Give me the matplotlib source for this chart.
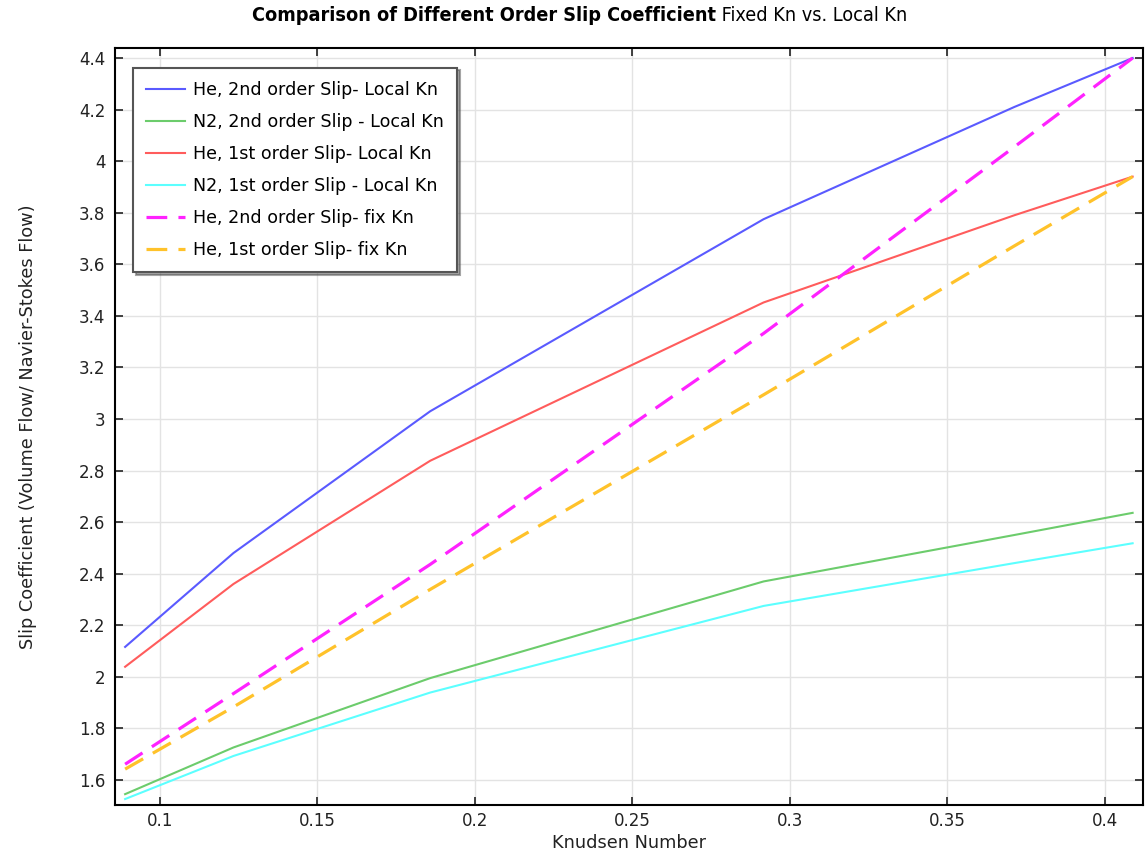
import matplotlib
matplotlib.use("Agg")
import matplotlib.pyplot as plt
from matplotlib.ticker import FuncFormatter, FixedLocator

# ---- data ----
kn = [0.0889, 0.1233, 0.1858, 0.2917, 0.3713, 0.4089]
he_2nd_local = [2.116, 2.48, 3.03, 3.775, 4.21, 4.40]
n2_2nd_local = [1.545, 1.726, 1.995, 2.37, 2.55, 2.636]
he_1st_local = [2.039, 2.36, 2.838, 3.452, 3.79, 3.94]
n2_1st_local = [1.526, 1.693, 1.939, 2.275, 2.441, 2.518]
he_2nd_fix = [1.661, 1.935, 2.436, 3.332, 4.055, 4.40]
he_1st_fix = [1.642, 1.883, 2.339, 3.094, 3.671, 3.94]

labels = ["He, 2nd order Slip- Local Kn", "N2, 2nd order Slip - Local Kn",
          "He, 1st order Slip- Local Kn", "N2, 1st order Slip - Local Kn",
          "He, 2nd order Slip- fix Kn", "He, 1st order Slip- fix Kn"]
xticks = [0.1, 0.15, 0.2, 0.25, 0.3, 0.35, 0.4]
yticks = [1.6, 1.8, 2.0, 2.2, 2.4, 2.6, 2.8, 3.0, 3.2, 3.4, 3.6, 3.8, 4.0, 4.2, 4.4]

fig = plt.figure(figsize=(11.47, 8.52), dpi=100)
ax = fig.add_axes([0.1003, 0.0552, 0.8965, 0.8885])

solid_lw = 1.5
dash_lw = 2.3
ax.plot(kn, he_2nd_local, color="#5a5aff", lw=solid_lw, label=labels[0])
ax.plot(kn, n2_2nd_local, color="#6ccc6c", lw=solid_lw, label=labels[1])
ax.plot(kn, he_1st_local, color="#ff5c5c", lw=solid_lw, label=labels[2])
ax.plot(kn, n2_1st_local, color="#5cffff", lw=solid_lw, label=labels[3])
ax.plot(kn, he_2nd_fix, color="#ff22ff", lw=dash_lw, dashes=(6.5, 3.5), label=labels[4])
ax.plot(kn, he_1st_fix, color="#ffc22a", lw=dash_lw, dashes=(6.5, 3.5), label=labels[5])

ax.set_xlim(0.0857, 0.4123)
ax.set_ylim(1.503, 4.439)
ax.xaxis.set_major_locator(FixedLocator(xticks))
ax.yaxis.set_major_locator(FixedLocator(yticks))
fmt = FuncFormatter(lambda v, p: ("%.2f" % v).rstrip("0").rstrip("."))
ax.xaxis.set_major_formatter(fmt)
ax.yaxis.set_major_formatter(fmt)

ax.grid(True, color="#e3e3e3", lw=1.0)
ax.set_axisbelow(True)
ax.tick_params(direction="in", length=6, width=1.2, top=True, right=True,
               labelsize=12, colors="#222222")
ax.tick_params(axis="x", pad=5)
ax.tick_params(axis="y", pad=7)
for s in ax.spines.values():
    s.set_linewidth(1.5)
    s.set_color("black")

ax.set_xlabel("Knudsen Number", fontsize=12.8, color="#222222", labelpad=3)
ax.set_ylabel("Slip Coefficient (Volume Flow/ Navier-Stokes Flow)", fontsize=12.8,
              color="#222222", labelpad=30)

leg = ax.legend(loc="upper left", bbox_to_anchor=(0.0175, 0.974), fontsize=12.6,
                frameon=True, fancybox=False, shadow=True, handlelength=2.2,
                labelspacing=0.8, borderpad=0.75, handletextpad=0.5,
                borderaxespad=0.0)
leg.get_frame().set_edgecolor("#555555")
leg.get_frame().set_linewidth(1.5)

# title: bold part + normal part
t1 = "Comparison of Different Order Slip Coefficient"
t2 = " Fixed Kn vs. Local Kn"
fig.canvas.draw()
r = fig.canvas.get_renderer()
a = fig.text(0, 0.982, t1, fontsize=14.2, fontweight="bold", fontstretch="condensed",
             va="center", ha="left")
b = fig.text(0, 0.982, t2, fontsize=14.2, fontstretch="condensed", va="center", ha="left")
wa = a.get_window_extent(r).width
wb = b.get_window_extent(r).width
x0 = (580 - (wa + wb) / 2) / fig.bbox.width
a.set_x(x0)
b.set_x(x0 + wa / fig.bbox.width)

fig.savefig("out.png", dpi=100)
